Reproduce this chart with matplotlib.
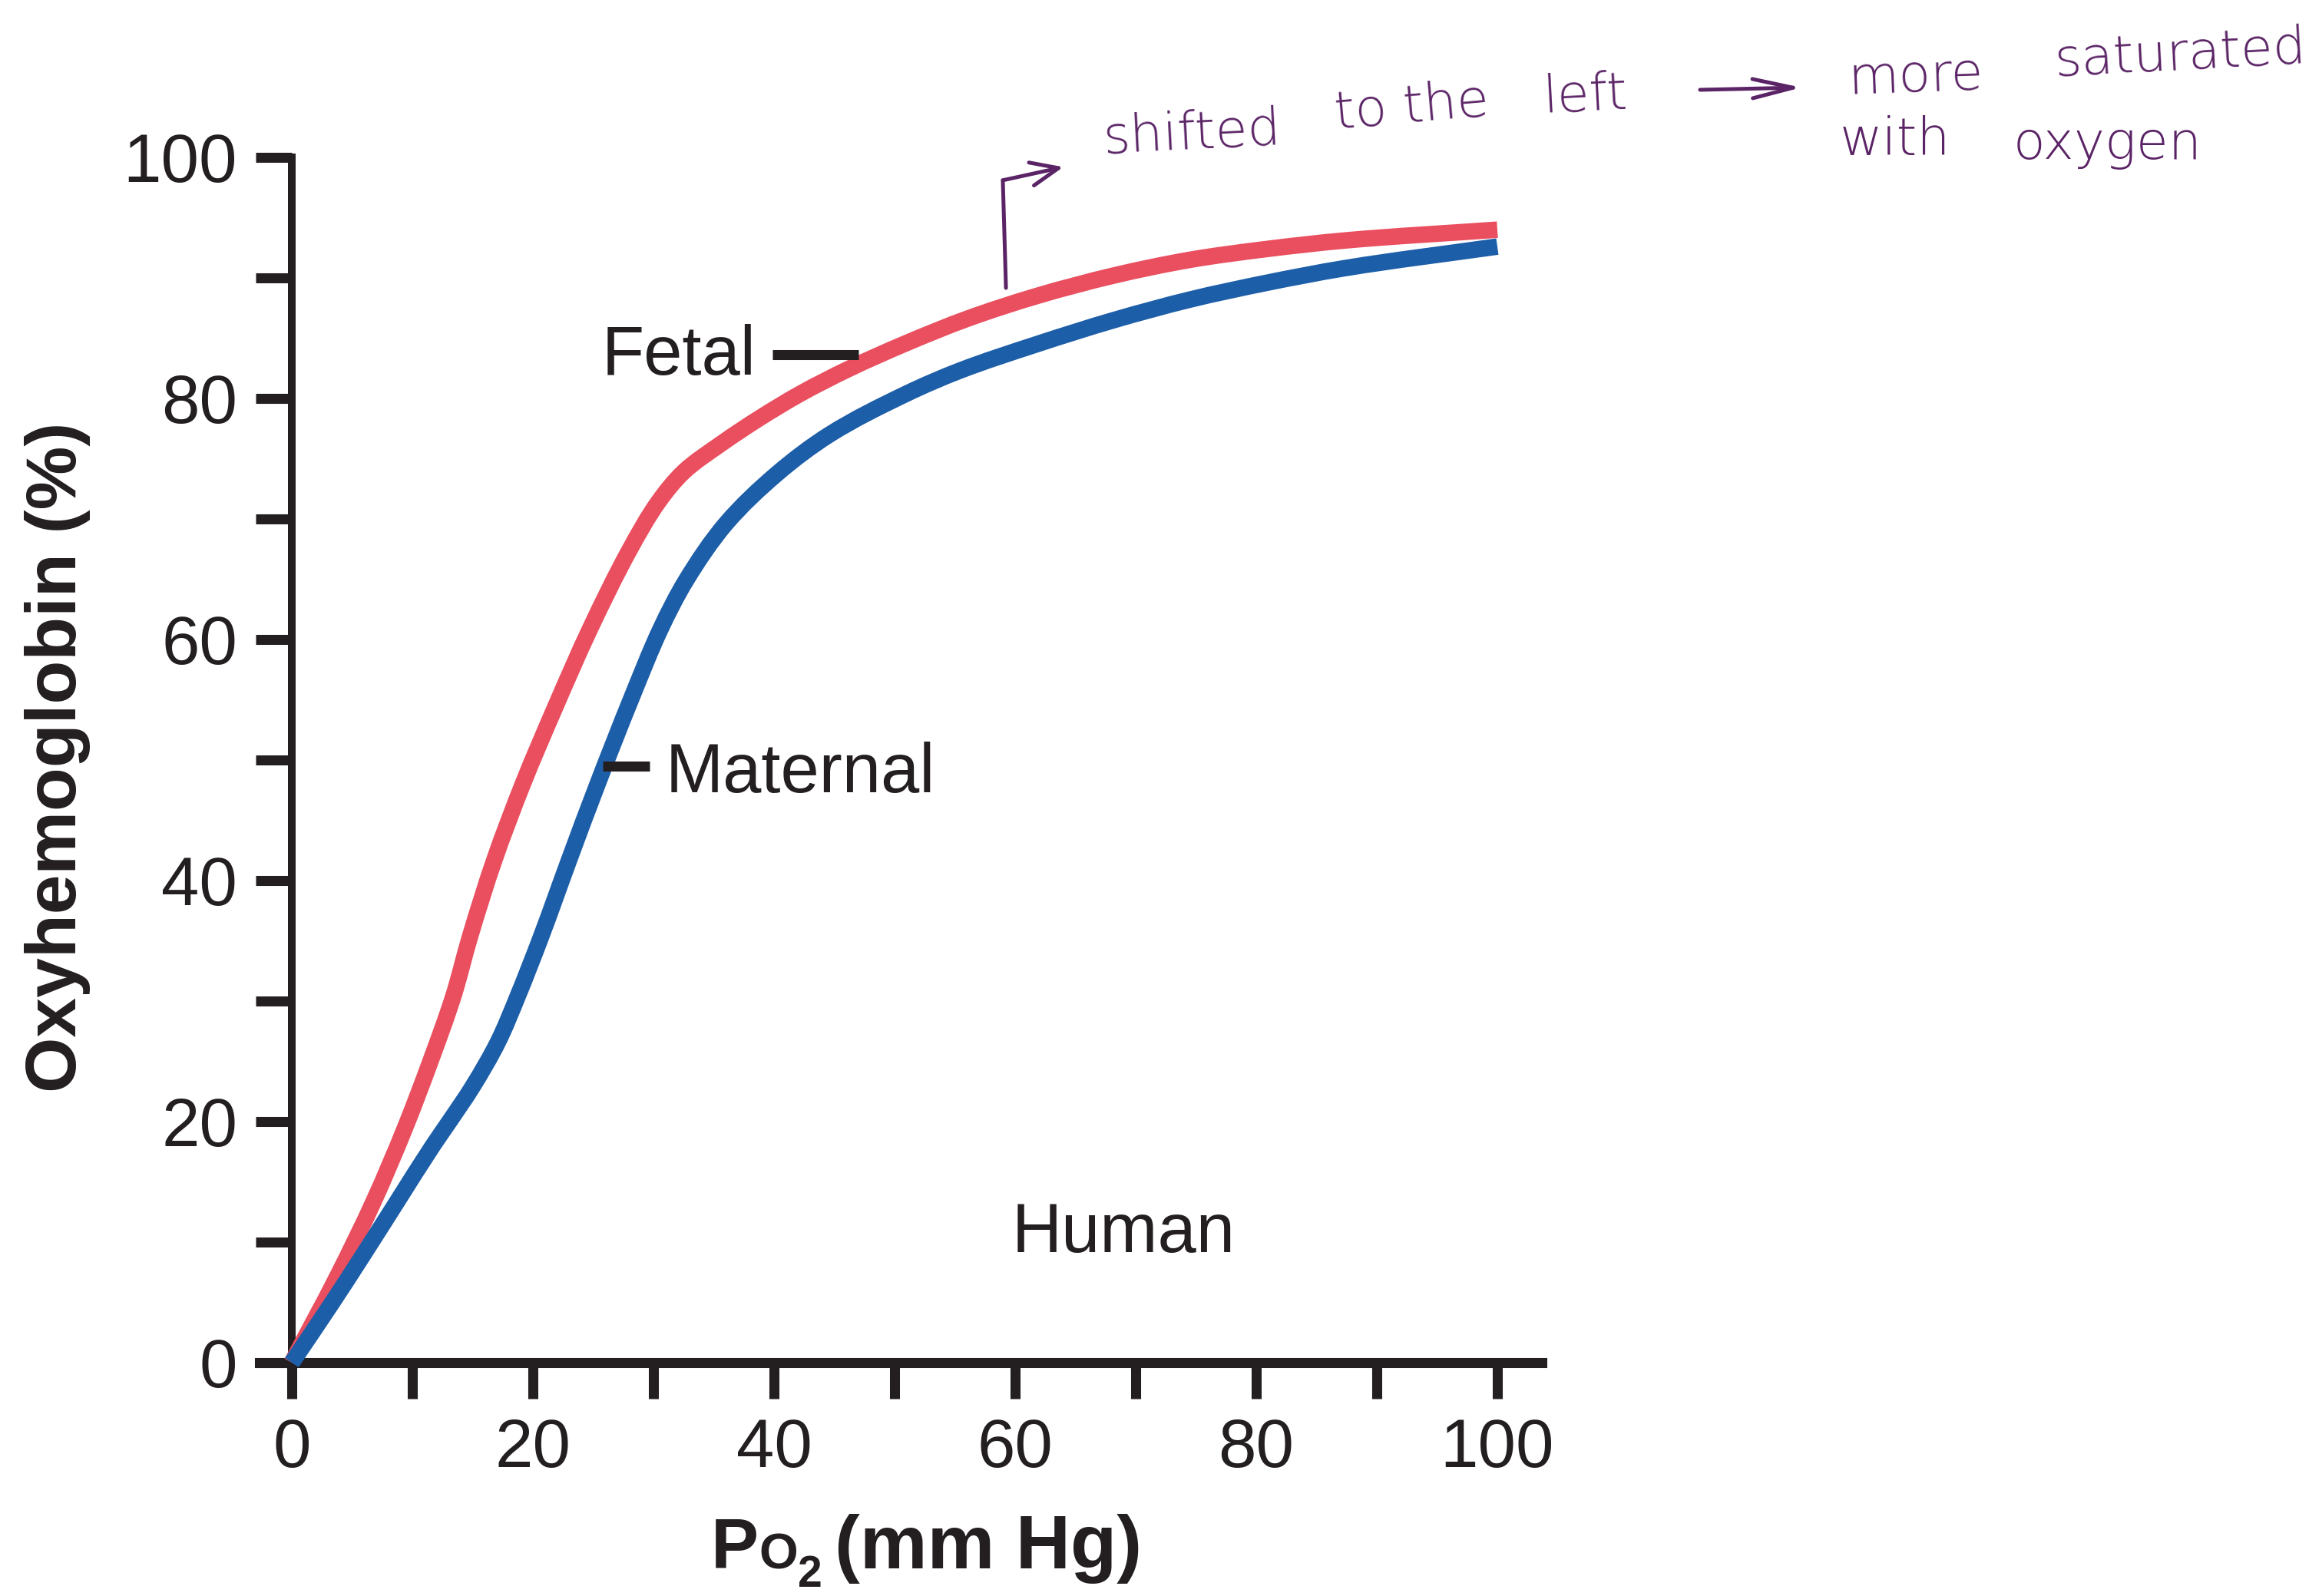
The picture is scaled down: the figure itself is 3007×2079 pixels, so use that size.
import numpy as np
import matplotlib
matplotlib.use("Agg")
import matplotlib.pyplot as plt
from matplotlib.path import Path
from matplotlib.patches import PathPatch

# Figure geometry (pixels at 100 dpi)
W, H, DPI = 3007, 2079, 100

# Oxygen dissociation curves, Po2 (mm Hg) vs oxyhemoglobin (%)
po2_fetal = [0, 3.8, 6.8, 9.4, 11.5, 13.4, 14.8, 16.8, 19.2, 21.9, 24.7, 28.0, 30.4,
             32.5, 35.7, 38.7, 42.2, 46.3, 51.0, 56.0, 61.8, 68.2, 74.5, 80.9, 87.3, 100]
sat_fetal = [0, 7.2, 13.4, 19.5, 25.0, 30.4, 35.4, 41.7, 48.1, 54.5, 60.8, 67.4, 71.4,
             73.9, 76.3, 78.3, 80.4, 82.5, 84.6, 86.6, 88.5, 90.2, 91.5, 92.4, 93.1, 94.0]

po2_maternal = [0, 3.3, 5.9, 8.7, 11.7, 13.0, 15.0, 17.1, 18.7, 20.7, 23.0, 25.4, 28.2,
                30.6, 32.7, 36.0, 40.3, 44.6, 51.0, 55.4, 61.8, 68.2, 74.5, 80.9, 87.3, 100]
sat_maternal = [0, 4.9, 8.9, 13.3, 18.0, 19.9, 22.9, 26.6, 30.3, 35.4, 41.7, 48.1, 55.2,
                60.9, 64.9, 69.6, 73.8, 77.0, 80.4, 82.3, 84.5, 86.5, 88.2, 89.6, 90.8, 92.6]

x_major = [0, 20, 40, 60, 80, 100]
x_minor = [10, 30, 50, 70, 90]
y_major = [0, 20, 40, 60, 80, 100]
y_minor = [10, 30, 50, 70, 90]

# Curve labels with their leader ticks
fetal_label = ("Fetal", 38.5, 82.0)
fetal_leader_x = [39.9, 47.0]
fetal_leader_y = [83.6, 83.6]
maternal_label = ("Maternal", 31.0, 47.3)
maternal_leader_x = [25.8, 29.7]
maternal_leader_y = [49.5, 49.5]
species_label = ("Human", 59.7, 9.2)

# Handwritten note: (word, x px, baseline px, rotation)
note_words = [
    ("shifted", 1438, 200, 3),
    ("to the", 1740, 168, 5),
    ("left", 2010, 147, 3),
    ("more", 2407, 122, 2),
    ("saturated", 2677, 99, 3),
    ("with", 2396, 202, 0),
    ("oxygen", 2622, 207, 0),
]
note_arrow = ((2214, 117), (2346, 114))          # px, start -> tip
bracket_x = [59.24, 58.98]                        # data units
bracket_y = [89.17, 98.1]
bracket_tip = (64.0, 99.2)

INK = "#231F20"
RED = "#EA4F5F"
BLUE = "#1D5EA8"
PURPLE = "#5B2466"

plt.rcParams["font.family"] = ["Liberation Sans", "DejaVu Sans"]


def smooth_path(xs, ys):
    """Cubic Bezier path passing through every (x, y) point."""
    pts = np.column_stack([xs, ys]).astype(float)
    n = len(pts)
    tang = np.zeros_like(pts)
    for i in range(n):
        if i == 0:
            d = pts[1] - pts[0]
        elif i == n - 1:
            d = pts[-1] - pts[-2]
        else:
            a = pts[i] - pts[i - 1]
            b = pts[i + 1] - pts[i]
            d = a / np.hypot(*a) + b / np.hypot(*b)
        tang[i] = d / np.hypot(*d)
    verts = [pts[0]]
    codes = [Path.MOVETO]
    for i in range(n - 1):
        seg = np.hypot(*(pts[i + 1] - pts[i]))
        verts += [pts[i] + tang[i] * seg / 3, pts[i + 1] - tang[i + 1] * seg / 3, pts[i + 1]]
        codes += [Path.CURVE4] * 3
    return Path(verts, codes)


fig = plt.figure(figsize=(W / DPI, H / DPI), dpi=DPI)
ax = fig.add_axes([223 / W, 1 - 1932 / H, 1884 / W, 1884 / H])
ax.set_xlim(-10, 110)
ax.set_ylim(-10, 110)

ax.add_patch(PathPatch(smooth_path(po2_fetal, sat_fetal), fill=False, edgecolor=RED,
                       lw=15.5, capstyle="butt", joinstyle="round", zorder=3))
ax.add_patch(PathPatch(smooth_path(po2_maternal, sat_maternal), fill=False, edgecolor=BLUE,
                       lw=15.5, capstyle="butt", joinstyle="round", zorder=4))

# Axes frame: only left/bottom, crossing at the origin
for side in ("top", "right"):
    ax.spines[side].set_visible(False)
ax.spines["left"].set_position(("data", 0))
ax.spines["bottom"].set_position(("data", 0))
ax.spines["left"].set_bounds(0, 100)
ax.spines["bottom"].set_bounds(-2.7, 103.7)
ax.spines["left"].set_linewidth(7.2)
ax.spines["bottom"].set_linewidth(9.4)
ax.spines["left"].set_color(INK)
ax.spines["bottom"].set_color(INK)

ax.set_xticks(x_major)
ax.set_xticklabels([str(v) for v in x_major])
ax.set_xticks(x_minor, minor=True)
ax.set_yticks(y_major)
ax.set_yticklabels([str(v) for v in y_major])
ax.set_yticks(y_minor, minor=True)
ax.tick_params(which="both", direction="out", length=34, width=9.4, color=INK)
ax.tick_params(which="major", pad=17, labelsize=64, labelcolor=INK)

# Curve labels
ax.text(fetal_label[1], fetal_label[2], fetal_label[0], ha="right", va="baseline",
        fontsize=65, color=INK)
ax.plot(fetal_leader_x, fetal_leader_y, color=INK, lw=9.4, solid_capstyle="butt", zorder=5)
ax.text(maternal_label[1], maternal_label[2], maternal_label[0], ha="left", va="baseline",
        fontsize=65, color=INK)
ax.plot(maternal_leader_x, maternal_leader_y, color=INK, lw=9.4, solid_capstyle="butt", zorder=5)
ax.text(species_label[1], species_label[2], species_label[0], ha="left", va="baseline",
        fontsize=65, color=INK)

# Axis titles
fig.text(75 / W, 1 - 986 / H, "Oxyhemoglobin (%)", rotation=90, ha="center",
         va="center", fontsize=67, fontweight="bold", color=INK)

base = 1 - 2043 / H
t_p = fig.text(926 / W, base, "P", ha="left", va="baseline", fontsize=67,
               fontweight="bold", color=INK)
t_o = ax.annotate("O", xy=(1, base), xycoords=(t_p, "figure fraction"), ha="left",
                  va="baseline", fontsize=47, fontweight="bold", color=INK)
t_2 = ax.annotate("2", xy=(1, base), xycoords=(t_o, "figure fraction"),
                  xytext=(0, -17), textcoords="offset points", ha="left",
                  va="baseline", fontsize=41, fontweight="bold", color=INK)
ax.annotate("(mm Hg)", xy=(1, base), xycoords=(t_2, "figure fraction"),
            xytext=(12, 0), textcoords="offset points", ha="left", va="baseline",
            fontsize=71, fontweight="bold", color=INK)

# Handwritten note
for word, px, py, rot in note_words:
    fig.text(px / W, 1 - py / H, word, rotation=rot, rotation_mode="anchor",
             ha="left", va="baseline", fontsize=49, color=PURPLE,
             family=["DejaVu Sans"], fontweight="light")

(sx, sy), (tx, ty) = note_arrow
ax.annotate("", xy=(tx / W, 1 - ty / H), xycoords="figure fraction",
            xytext=(sx / W, 1 - sy / H), textcoords="figure fraction",
            arrowprops=dict(arrowstyle="->,head_length=1.9,head_width=0.45",
                            lw=3.6, color=PURPLE, mutation_scale=20,
                            shrinkA=0, shrinkB=0))

ax.plot(bracket_x, bracket_y, color=PURPLE, lw=3.6, solid_capstyle="round",
        clip_on=False, zorder=6)
ax.annotate("", xy=bracket_tip, xytext=(bracket_x[-1], bracket_y[-1]),
            arrowprops=dict(arrowstyle="->,head_length=1.3,head_width=0.55",
                            lw=3.6, color=PURPLE, mutation_scale=20,
                            shrinkA=0, shrinkB=0),
            annotation_clip=False)

fig.savefig("out.png", dpi=DPI)
